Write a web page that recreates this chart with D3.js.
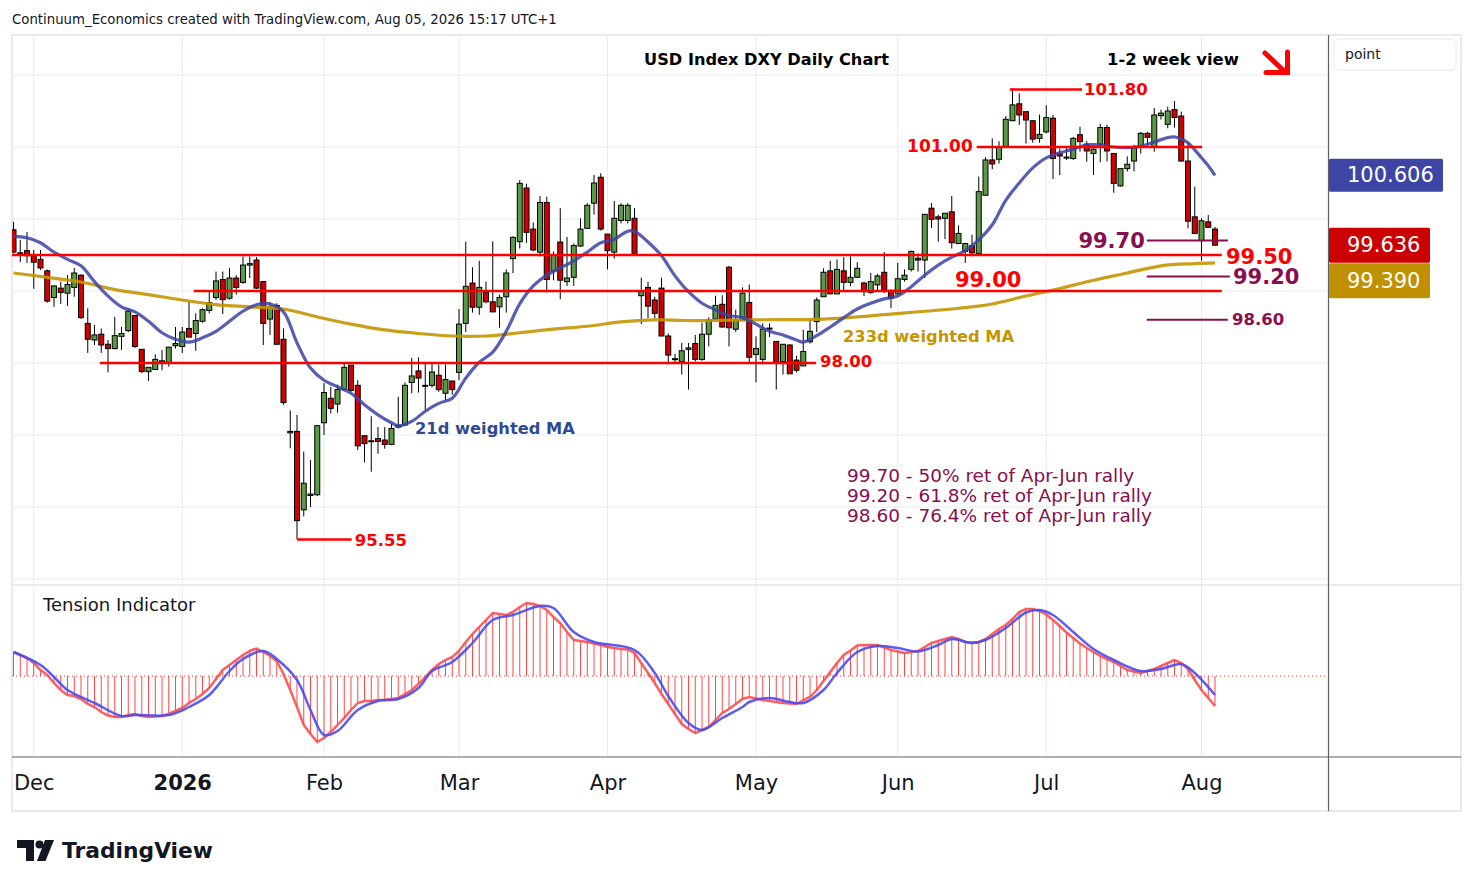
<!DOCTYPE html>
<html><head><meta charset="utf-8">
<script src="https://cdn.jsdelivr.net/npm/d3@7"></script>
<style>
html,body{margin:0;padding:0;background:#fff;}
svg{display:block;font-family:"DejaVu Sans",sans-serif;}
</style></head><body>
<svg id="chart" width="1474" height="887"></svg>
<script>
// ---------- DATA ----------
const firstDay = "2025-11-26", lastDay = "2026-08-05";
const holidays = ["2025-12-25", "2026-01-01"];
const monthLabels = ["Dec", "2026", "Feb", "Mar", "Apr", "May", "Jun", "Jul", "Aug"];
const priceTicks = [95, 96, 97, 98, 99, 100, 101, 102];

// [open, high, low, close] per trading day
const ohlc = [
[99.85,99.96,99.52,99.54],[99.53,99.71,99.40,99.52],[99.56,99.82,99.39,99.49],[99.49,99.57,99.03,99.40],[99.44,99.57,99.29,99.32],
[99.28,99.30,98.84,98.86],[98.91,99.08,98.78,99.07],[99.04,99.13,98.82,98.98],[98.97,99.22,98.79,99.09],[99.05,99.32,98.92,99.25],
[99.22,99.23,98.61,98.63],[98.55,98.76,98.14,98.33],[98.32,98.53,98.25,98.39],[98.40,98.48,98.14,98.25],[98.26,98.32,97.87,98.20],
[98.20,98.64,98.19,98.38],[98.37,98.50,98.18,98.41],[98.45,98.76,98.43,98.72],[98.66,98.66,98.21,98.23],[98.19,98.19,97.86,97.88],
[97.88,97.94,97.75,97.94],[97.91,98.12,97.91,98.05],[98.03,98.18,97.90,98.00],[98.00,98.22,97.95,98.22],[98.24,98.50,98.20,98.27],
[98.23,98.50,98.14,98.43],[98.48,98.85,98.36,98.36],[98.41,98.69,98.17,98.59],[98.58,98.76,98.56,98.74],[98.73,98.99,98.69,98.84],
[98.91,99.27,98.875,99.14],[99.16,99.27,98.68,98.88],[98.90,99.32,98.88,99.18],[99.18,99.22,98.95,99.05],[99.12,99.48,99.10,99.36],
[99.36,99.48,99.18,99.38],[99.43,99.47,99.03,99.04],[99.13,99.13,98.25,98.55],[98.61,98.85,98.39,98.78],[98.80,98.83,98.26,98.26],
[98.33,98.48,97.42,97.45],[97.03,97.34,96.815,97.05],[97.05,97.28,95.55,95.81],[95.96,96.77,95.87,96.33],[96.16,96.65,96.00,96.18],
[96.17,97.14,96.15,97.13],[97.17,97.72,97.00,97.59],[97.51,97.67,97.30,97.37],[97.43,97.70,97.31,97.63],[97.63,97.99,97.62,97.94],
[97.97,97.97,97.60,97.62],[97.69,97.76,96.79,96.85],[96.99,96.99,96.62,96.88],[96.92,97.26,96.49,96.91],[96.95,97.11,96.74,96.91],
[96.93,97.11,96.81,96.87],[96.87,97.16,96.86,97.09],[97.11,97.53,97.09,97.13],[97.14,97.73,97.13,97.69],[97.73,98.07,97.58,97.82],
[97.89,98.08,97.59,97.79],[97.68,97.995,97.35,97.69],[97.69,98.00,97.66,97.875],[97.83,97.98,97.60,97.63],[97.58,97.98,97.48,97.77],
[97.75,97.75,97.56,97.63],[97.87,98.75,97.76,98.54],[98.55,99.685,98.43,99.065],[99.11,99.33,98.70,98.775],[98.775,99.42,98.67,99.05],
[98.98,99.13,98.83,98.85],[98.85,99.69,98.71,98.71],[98.78,98.95,98.49,98.91],[98.92,99.30,98.70,99.25],[99.45,99.76,99.25,99.745],
[99.685,100.54,99.59,100.495],[100.43,100.49,99.67,99.815],[99.86,99.95,99.55,99.57],[99.54,100.32,99.48,100.23],[100.23,100.31,98.98,99.16],
[99.28,99.55,99.15,99.50],[99.68,100.15,98.885,99.15],[99.13,99.75,99.07,99.18],[99.19,99.66,99.07,99.63],[99.625,100.01,99.61,99.86],
[99.87,100.22,99.86,100.19],[100.22,100.61,100.06,100.50],[100.58,100.635,99.84,99.86],[99.79,99.79,99.30,99.56],[99.54,100.25,99.45,100.01],
[99.98,100.22,99.94,100.19],[99.98,100.22,99.94,100.19],[100.01,100.15,99.51,99.51],[98.935,99.185,98.54,98.99],[99.05,99.13,98.62,98.79],
[98.875,98.92,98.62,98.69],[99.04,99.185,98.375,98.375],[98.375,98.41,97.98,98.11],[98.06,98.13,97.99,98.055],[98.02,98.28,97.84,98.17],
[98.19,98.28,97.63,98.21],[98.27,98.39,98.02,98.05],[98.05,98.56,98.03,98.40],[98.40,98.635,98.23,98.60],[98.61,98.935,98.60,98.80],
[98.815,98.94,98.49,98.50],[99.33,99.35,98.23,98.49],[98.47,98.74,98.43,98.60],[98.60,99.05,98.59,98.97],[98.84,99.09,98.00,98.08],
[98.12,98.37,97.73,98.20],[98.05,98.55,97.98,98.47],[98.48,98.55,98.36,98.485],[98.30,98.30,97.63,98.02],[98.02,98.26,97.84,98.26],
[98.25,98.26,97.85,97.85],[98.04,98.10,97.87,97.90],[97.96,98.46,97.96,98.16],[98.295,98.60,98.27,98.44],[98.575,98.91,98.43,98.875],
[98.92,99.315,98.92,99.26],[99.28,99.42,98.96,98.96],[98.96,99.44,98.96,99.30],[99.28,99.47,98.99,99.12],[99.12,99.48,99.07,99.19],
[99.19,99.40,99.18,99.315],[99.11,99.13,98.93,98.99],[98.98,99.25,98.96,99.13],[99.085,99.24,99.01,99.21],[99.26,99.54,98.97,99.02],
[99.01,99.02,98.76,98.90],[98.96,99.39,98.95,99.17],[99.16,99.30,99.13,99.22],[99.30,99.56,99.27,99.55],[99.455,99.52,99.27,99.43],
[99.43,100.07,99.18,100.065],[100.15,100.22,99.875,99.995],[100.03,100.06,99.685,100.00],[100.01,100.08,99.72,100.08],[100.10,100.32,99.59,99.67],
[99.66,99.91,99.66,99.80],[99.55,99.66,99.39,99.66],[99.63,99.78,99.48,99.53],[99.52,100.59,99.52,100.38],[100.33,100.86,100.33,100.82],
[100.82,101.12,100.69,100.765],[100.83,101.08,100.77,100.995],[101.005,101.43,101.00,101.385],[101.365,101.815,101.36,101.585],[101.60,101.745,101.305,101.445],
[101.49,101.49,101.05,101.375],[101.365,101.37,101.06,101.11],[101.12,101.45,101.06,101.175],[101.21,101.58,101.19,101.41],[101.40,101.445,100.555,100.84],
[100.91,100.98,100.61,100.875],[100.85,101.00,100.82,100.86],[100.84,101.14,100.82,101.12],[101.17,101.28,100.935,101.075],[101.04,101.08,100.795,100.945],
[100.91,101.01,100.61,100.97],[101.04,101.32,100.79,101.27],[101.27,101.31,100.80,100.945],[100.91,100.91,100.365,100.495],[100.46,100.70,100.45,100.70],
[100.70,100.87,100.66,100.76],[100.805,101.03,100.66,100.99],[101.005,101.21,100.91,101.19],[101.19,101.21,101.03,101.135],[101.005,101.54,100.935,101.445],
[101.435,101.52,101.38,101.47],[101.315,101.56,101.26,101.50],[101.52,101.64,101.27,101.41],[101.43,101.49,100.80,100.805],[100.805,101.07,99.87,99.97],
[100.03,100.45,99.80,99.80],[99.70,100.01,99.42,99.975],[99.96,100.055,99.885,99.885],[99.86,99.89,99.636,99.636]
];

// 21-day weighted MA, [bar index, value]
const ma21 = [
[0,99.76],[2,99.74],[4,99.67],[6,99.54],[8,99.44],[10,99.35],[12,99.13],[14,98.93],[16,98.78],[18,98.71],
[20,98.58],[22,98.42],[24,98.33],[26,98.29],[28,98.35],[30,98.44],[32,98.58],[34,98.72],[36,98.81],[38,98.82],
[40,98.71],[42,98.28],[44,97.93],[46,97.76],[48,97.67],[50,97.58],[52,97.42],[54,97.28],[56,97.17],[57,97.13],
[59,97.19],[61,97.33],[63,97.44],[65,97.51],[67,97.79],[69,98.01],[71,98.15],[73,98.44],[75,98.82],[77,99.07],
[79,99.22],[81,99.32],[83,99.42],[85,99.54],[87,99.67],[89,99.72],[91,99.83],[92,99.83],[94,99.68],[96,99.49],
[98,99.21],[100,98.99],[102,98.83],[104,98.74],[106,98.66],[108,98.63],[110,98.54],[112,98.44],[114,98.39],[116,98.32],
[117,98.29],[119,98.38],[121,98.50],[123,98.63],[125,98.75],[127,98.83],[129,98.89],[131,98.93],[133,99.06],[135,99.22],
[137,99.36],[139,99.47],[141,99.56],[143,99.71],[145,99.92],[147,100.26],[149,100.50],[151,100.71],[153,100.85],[155,100.92],
[157,100.97],[159,101.03],[161,101.03],[163,101.00],[165,100.99],[167,101.01],[169,101.07],[171,101.13],[172,101.14],[173,101.11],
[174,101.06],[175,100.96],[176,100.85],[177,100.74],[178,100.606]
];

// 233-day weighted MA, [bar index, value]
const ma233 = [
[0,99.25],[5,99.19],[10,99.125],[15,99.02],[20,98.95],[25,98.875],[30,98.81],[35,98.78],[40,98.75],[45,98.64],
[50,98.54],[55,98.46],[60,98.41],[65,98.375],[70,98.375],[75,98.42],[80,98.47],[85,98.51],[90,98.57],[95,98.60],
[100,98.59],[110,98.60],[120,98.61],[130,98.68],[140,98.76],[145,98.82],[150,98.93],[155,99.035],[160,99.15],[165,99.25],
[170,99.35],[175,99.38],[178,99.39]
];

// Tension indicator, one value per bar
const tension = [
2.4,2.1,1.8,1.3,0.6,0.1,-0.7,-1.4,-1.9,-2.0,
-2.3,-2.8,-3.1,-3.6,-3.95,-4.1,-4.1,-3.9,-3.8,-4.0,
-4.1,-4.05,-4.0,-3.8,-3.5,-3.2,-2.7,-2.3,-1.8,-1.2,
-0.3,0.6,1.1,1.6,2.1,2.5,2.75,2.4,2.0,1.5,
0.2,-1.4,-3.1,-4.9,-5.8,-6.6,-6.2,-5.6,-4.9,-4.2,
-3.4,-2.7,-2.5,-2.5,-2.4,-2.4,-2.3,-2.2,-1.8,-1.4,
-0.8,-0.1,0.6,1.2,1.6,1.9,2.5,3.4,4.2,4.9,
5.6,6.3,6.2,6.1,6.4,6.9,7.3,7.2,7.0,6.6,
5.9,5.3,4.4,3.6,3.5,3.4,3.25,3.1,2.9,2.8,
2.7,2.65,2.3,1.3,0.3,-0.7,-1.8,-2.8,-3.8,-4.8,
-5.3,-5.7,-5.4,-5.1,-4.4,-3.7,-3.3,-2.8,-2.3,-2.1,
-2.25,-2.4,-2.5,-2.6,-2.7,-2.75,-2.8,-2.4,-2.1,-1.4,
-0.5,0.4,1.3,2.1,2.55,3.05,3.1,3.1,3.1,2.85,
2.6,2.45,2.3,2.4,2.5,2.9,3.3,3.5,3.7,3.9,
3.7,3.4,3.35,3.4,3.7,4.2,4.7,5.1,5.7,6.4,
6.7,6.7,6.5,6.15,5.6,5.0,4.35,3.8,3.25,2.8,
2.4,2.0,1.7,1.4,1.0,0.6,0.45,0.3,0.5,0.7,
1.0,1.3,1.6,1.3,0.7,-0.4,-1.4,-2.2,-3.0
];

// Tension signal line, [bar index, value]
const tensionSignal = [
[0,2.4],[4,1.1],[6,-0.1],[8,-1.4],[12,-2.7],[16,-4.0],[18,-3.9],[23,-3.9],[26,-3.1],[29,-1.9],
[32,0.5],[34,1.7],[37,2.5],[39,1.7],[42,-0.4],[44,-3.4],[46,-5.9],[48,-5.5],[51,-3.4],[54,-2.5],
[57,-2.3],[60,-1.2],[62,0.5],[65,1.4],[68,3.3],[71,5.6],[74,6.1],[78,7.0],[80,6.8],[83,4.4],
[86,3.4],[92,2.6],[95,0.3],[97,-2.0],[100,-4.7],[102,-5.4],[105,-4.2],[108,-3.1],[109,-2.6],[112,-2.2],
[115,-2.6],[117,-2.7],[120,-1.4],[122,0.3],[125,2.4],[128,3.0],[131,2.8],[134,2.45],[137,3.1],[139,3.7],
[142,3.3],[144,3.6],[147,4.8],[150,6.35],[152,6.6],[154,6.1],[157,4.4],[160,2.7],[163,1.6],[167,0.5],
[170,0.7],[173,1.2],[175,0.3],[178,-1.9]
];

// horizontal levels: [price, from bar, to bar, label]
const redLevels = [
[99.50, -0.3, 179.0, "99.50"],
[99.00, 26.7, 179.0, "99.00"],
[98.00, 12.8, 118.9, "98.00"],
[101.00, 142.7, 176.1, "101.00"],
[101.80, 147.6, 158.3, "101.80"],
[95.55, 42.0, 50.1, "95.55"]
];
const retLevels = [
[99.70, 167.9, 179.9, "99.70"],
[99.20, 167.9, 180.2, "99.20"],
[98.60, 167.9, 179.9, "98.60"]
];
const retNotes = [
"99.70 - 50% ret of Apr-Jun rally",
"99.20 - 61.8% ret of Apr-Jun rally",
"98.60 - 76.4% ret of Apr-Jun rally"
];

// ---------- CALENDAR ----------
const parse = d3.utcParse("%Y-%m-%d"), fmt = d3.utcFormat("%Y-%m-%d");
const dates = d3.utcDay.range(parse(firstDay), d3.utcDay.offset(parse(lastDay), 1))
  .filter(d => d.getUTCDay() !== 0 && d.getUTCDay() !== 6 && !holidays.includes(fmt(d)));
const monthIdx = [];
dates.forEach((d, i) => { if (i > 0 && d.getUTCMonth() !== dates[i - 1].getUTCMonth()) monthIdx.push(i); });

// ---------- LAYOUT ----------
const svg = d3.select("#chart");
const L = 12, R = 1328, T = 35, MB = 584, TT = 586, TB = 757, AB = 811, RR = 1461;
const x = d3.scaleLinear().domain([0, dates.length - 1]).range([13.5, 1215]);
const y = d3.scaleLinear().domain([95, 102]).range([579, 75]);
const yt = d3.scaleLinear().domain([-8.1, 8.9]).range([757, 587]);
const gridC = "#e6ecf2", maroon = "#880e4f", red = "#ff0000";

const defs = svg.append("defs");
defs.append("clipPath").attr("id", "cMain").append("rect").attr("x", L).attr("y", T).attr("width", R - L).attr("height", MB - T);
defs.append("clipPath").attr("id", "cTen").append("rect").attr("x", L).attr("y", TT).attr("width", R - L).attr("height", TB - TT);
defs.append("clipPath").attr("id", "cAxis").append("rect").attr("x", R).attr("y", T).attr("width", RR - R).attr("height", MB - T);

// header
svg.append("text").attr("x", 12).attr("y", 24).attr("font-size", 13.3).attr("fill", "#131722")
  .text("Continuum_Economics created with TradingView.com, Aug 05, 2026 15:17 UTC+1");

// frame
svg.append("rect").attr("x", L).attr("y", T).attr("width", RR - L).attr("height", AB - T)
  .attr("fill", "none").attr("stroke", "#e0e3eb").attr("stroke-width", 1.5);

// grid
const grid = svg.append("g");
grid.selectAll(".hg").data(priceTicks).join("line").attr("x1", L).attr("x2", R)
  .attr("y1", d => y(d)).attr("y2", d => y(d)).attr("stroke", gridC).attr("clip-path", "url(#cMain)");
grid.selectAll(".vg").data(monthIdx).join("line").attr("x1", d => x(d)).attr("x2", d => x(d))
  .attr("y1", T).attr("y2", TB).attr("stroke", gridC);

// pane separators and axis lines
svg.append("line").attr("x1", L).attr("x2", RR).attr("y1", 585).attr("y2", 585).attr("stroke", "#e0e3eb").attr("stroke-width", 1.5);
svg.append("line").attr("x1", L).attr("x2", RR).attr("y1", TB).attr("y2", TB).attr("stroke", "#5d606b").attr("stroke-width", 1.2);
svg.append("line").attr("x1", R + 0.5).attr("x2", R + 0.5).attr("y1", T).attr("y2", AB).attr("stroke", "#5d606b").attr("stroke-width", 1.2);

// ---------- MAIN PANE ----------
const main = svg.append("g").attr("clip-path", "url(#cMain)");
const cs = main.selectAll(".c").data(ohlc).join("g");
cs.append("line").attr("x1", (d, i) => x(i)).attr("x2", (d, i) => x(i))
  .attr("y1", d => y(d[1])).attr("y2", d => y(d[2])).attr("stroke", "#000").attr("stroke-width", 1);
cs.append("rect").attr("x", (d, i) => x(i) - 2.5).attr("width", 5)
  .attr("y", d => y(Math.max(d[0], d[3])))
  .attr("height", d => Math.max(1, Math.abs(y(d[0]) - y(d[3]))))
  .attr("fill", d => d[3] >= d[0] ? "#5a9a45" : "#d00000")
  .attr("stroke", "#000").attr("stroke-width", 1);

const lineGen = d3.line().x(d => x(d[0])).y(d => y(d[1])).curve(d3.curveCatmullRom.alpha(0.5));
main.append("path").attr("d", lineGen(ma233)).attr("fill", "none").attr("stroke", "#c49500").attr("stroke-width", 3.2).attr("opacity", 0.9);
main.append("path").attr("d", lineGen(ma21)).attr("fill", "none").attr("stroke", "#3b43a6").attr("stroke-width", 3.2).attr("opacity", 0.85);

// levels
const lv = svg.append("g");
redLevels.forEach(l => {
  lv.append("line").attr("x1", Math.max(L, x(l[1]))).attr("x2", x(l[2])).attr("y1", y(l[0])).attr("y2", y(l[0]))
    .attr("stroke", red).attr("stroke-width", 2.5);
});
retLevels.forEach(l => {
  lv.append("line").attr("x1", x(l[1])).attr("x2", x(l[2])).attr("y1", y(l[0])).attr("y2", y(l[0]))
    .attr("stroke", maroon).attr("stroke-width", 2);
});
function lab(txt, xx, yy, size, color, anchor) {
  return lv.append("text").attr("x", xx).attr("y", yy).attr("dominant-baseline", "central")
    .attr("text-anchor", anchor || "start").attr("font-size", size).attr("font-weight", "bold")
    .attr("fill", color).text(txt);
}
const rl = Object.fromEntries(redLevels.map(l => [l[3], l]));
lab(rl["101.80"][3], x(rl["101.80"][2]) + 2, y(101.80), 16.5, red);
lab(rl["101.00"][3], x(rl["101.00"][1]) - 4, y(101.00) - 1, 17, red, "end");
lab(rl["99.50"][3], 1226, y(99.50) + 1.5, 21, red);
lab(rl["99.00"][3], 955, y(99.00) - 11, 21, red);
lab(rl["98.00"][3], x(rl["98.00"][2]) + 4, y(98.00) - 2, 16.5, red);
lab(rl["95.55"][3], x(rl["95.55"][2]) + 3, y(95.55) + 1, 16.5, red);
lab(retLevels[0][3], x(retLevels[0][1]) - 2, y(99.70), 21, maroon, "end");
lab(retLevels[1][3], 1233, y(99.20) + 0.5, 21, maroon);
lab(retLevels[2][3], 1232, y(98.60), 16.5, maroon);

retNotes.forEach((t, i) => {
  svg.append("text").attr("x", 847).attr("y", 482 + i * 20).attr("font-size", 18.5).attr("fill", maroon).text(t);
});
svg.append("text").attr("x", 843).attr("y", 342).attr("font-size", 16.3).attr("font-weight", "bold").attr("fill", "#c49500").text("233d weighted MA");
svg.append("text").attr("x", 415).attr("y", 434).attr("font-size", 16.3).attr("font-weight", "bold").attr("fill", "#2e4b8f").text("21d weighted MA");

// title and view
svg.append("text").attr("x", 644).attr("y", 65).attr("font-size", 16.2).attr("font-weight", "bold").attr("fill", "#000").text("USD Index DXY Daily Chart");
svg.append("text").attr("x", 1107).attr("y", 65).attr("font-size", 16.4).attr("font-weight", "bold").attr("fill", "#000").text("1-2 week view");
svg.append("path").attr("d", "M1265 53 L1285 72").attr("stroke", red).attr("stroke-width", 5).attr("stroke-linecap", "round").attr("fill", "none");
svg.append("path").attr("d", "M1266 72.5 H1287.5 V52").attr("stroke", red).attr("stroke-width", 5).attr("stroke-linecap", "round").attr("stroke-linejoin", "miter").attr("fill", "none");

// ---------- TENSION PANE ----------
const ten = svg.append("g").attr("clip-path", "url(#cTen)");
ten.append("line").attr("x1", L).attr("x2", R).attr("y1", yt(0)).attr("y2", yt(0))
  .attr("stroke", "#ff3030").attr("stroke-width", 1).attr("stroke-dasharray", "1,3");
ten.selectAll(".h").data(tension).join("line").attr("x1", (d, i) => x(i)).attr("x2", (d, i) => x(i))
  .attr("y1", yt(0)).attr("y2", d => yt(d)).attr("stroke", "#ff2a2a").attr("stroke-width", 1).attr("opacity", 0.85);
const tl = d3.line().x((d, i) => x(i)).y(d => yt(d)).curve(d3.curveLinear);
ten.append("path").attr("d", tl(tension)).attr("fill", "none").attr("stroke", "#ff4d4d").attr("stroke-width", 2.5).attr("opacity", 0.9);
const sl = d3.line().x(d => x(d[0])).y(d => yt(d[1])).curve(d3.curveCatmullRom.alpha(0.5));
ten.append("path").attr("d", sl(tensionSignal)).attr("fill", "none").attr("stroke", "#4a4af0").attr("stroke-width", 2.5).attr("opacity", 0.9);
svg.append("text").attr("x", 43).attr("y", 611).attr("font-size", 18).attr("fill", "#131722").text("Tension Indicator");

// ---------- AXES ----------
const xa = svg.append("g").attr("transform", `translate(0,${TB + 15})`)
  .call(d3.axisBottom(x).tickValues(monthIdx).tickFormat((d, i) => monthLabels[i]).tickSize(0).tickPadding(3));
xa.select(".domain").remove();
xa.selectAll("text").attr("font-family", "DejaVu Sans").attr("font-size", 21).attr("fill", "#131722")
  .attr("font-weight", (d, i) => monthLabels[i] === "2026" ? "bold" : "normal");

const ya = svg.append("g").attr("transform", `translate(${R},0)`).attr("clip-path", "url(#cAxis)")
  .call(d3.axisRight(y).tickValues(priceTicks).tickFormat(d3.format(".3f")).tickSize(0).tickPadding(18));
ya.select(".domain").remove();
ya.selectAll("text").attr("font-family", "DejaVu Sans").attr("font-size", 21).attr("fill", "#131722");

// price scale labels
const lastClose = ohlc[ohlc.length - 1][3];
const last21 = ma21[ma21.length - 1][1];
const last233 = ma233[ma233.length - 1][1];
const b1c = y(last21), b2c = y(lastClose);
const b3c = Math.max(y(last233), b2c + 35.5);
[[last21, b1c, 114, 33, "#3d46a5"], [lastClose, b2c, 101, 35, "#cc0000"], [last233, b3c, 101, 35, "#bf9000"]].forEach(b => {
  svg.append("rect").attr("x", R + 1).attr("y", b[1] - b[3] / 2).attr("width", b[2]).attr("height", b[3]).attr("fill", b[4]).attr("rx", 1.5);
  svg.append("text").attr("x", R + 19).attr("y", b[1]).attr("dominant-baseline", "central")
    .attr("font-size", 21).attr("fill", "#fff").text(d3.format(".3f")(b[0]));
});

// "point" box
svg.append("rect").attr("x", 1334).attr("y", 39).attr("width", 122).attr("height", 31).attr("rx", 5)
  .attr("fill", "#fff").attr("stroke", "#e6e8ee");
svg.append("text").attr("x", 1345).attr("y", 59).attr("font-size", 14).attr("fill", "#131722").text("point");

// TradingView logo
const logo = svg.append("g").attr("fill", "#131722");
logo.append("path").attr("d", "M17 840 H34 V861 H26 V848 H17 Z");
logo.append("circle").attr("cx", 39.5).attr("cy", 844.5).attr("r", 4);
logo.append("path").attr("d", "M45 840 H54 L45.5 861 H37 Z");
svg.append("text").attr("x", 62).attr("y", 858).attr("font-size", 21.8).attr("font-weight", "bold").attr("fill", "#131722").text("TradingView");
</script>
</body></html>
